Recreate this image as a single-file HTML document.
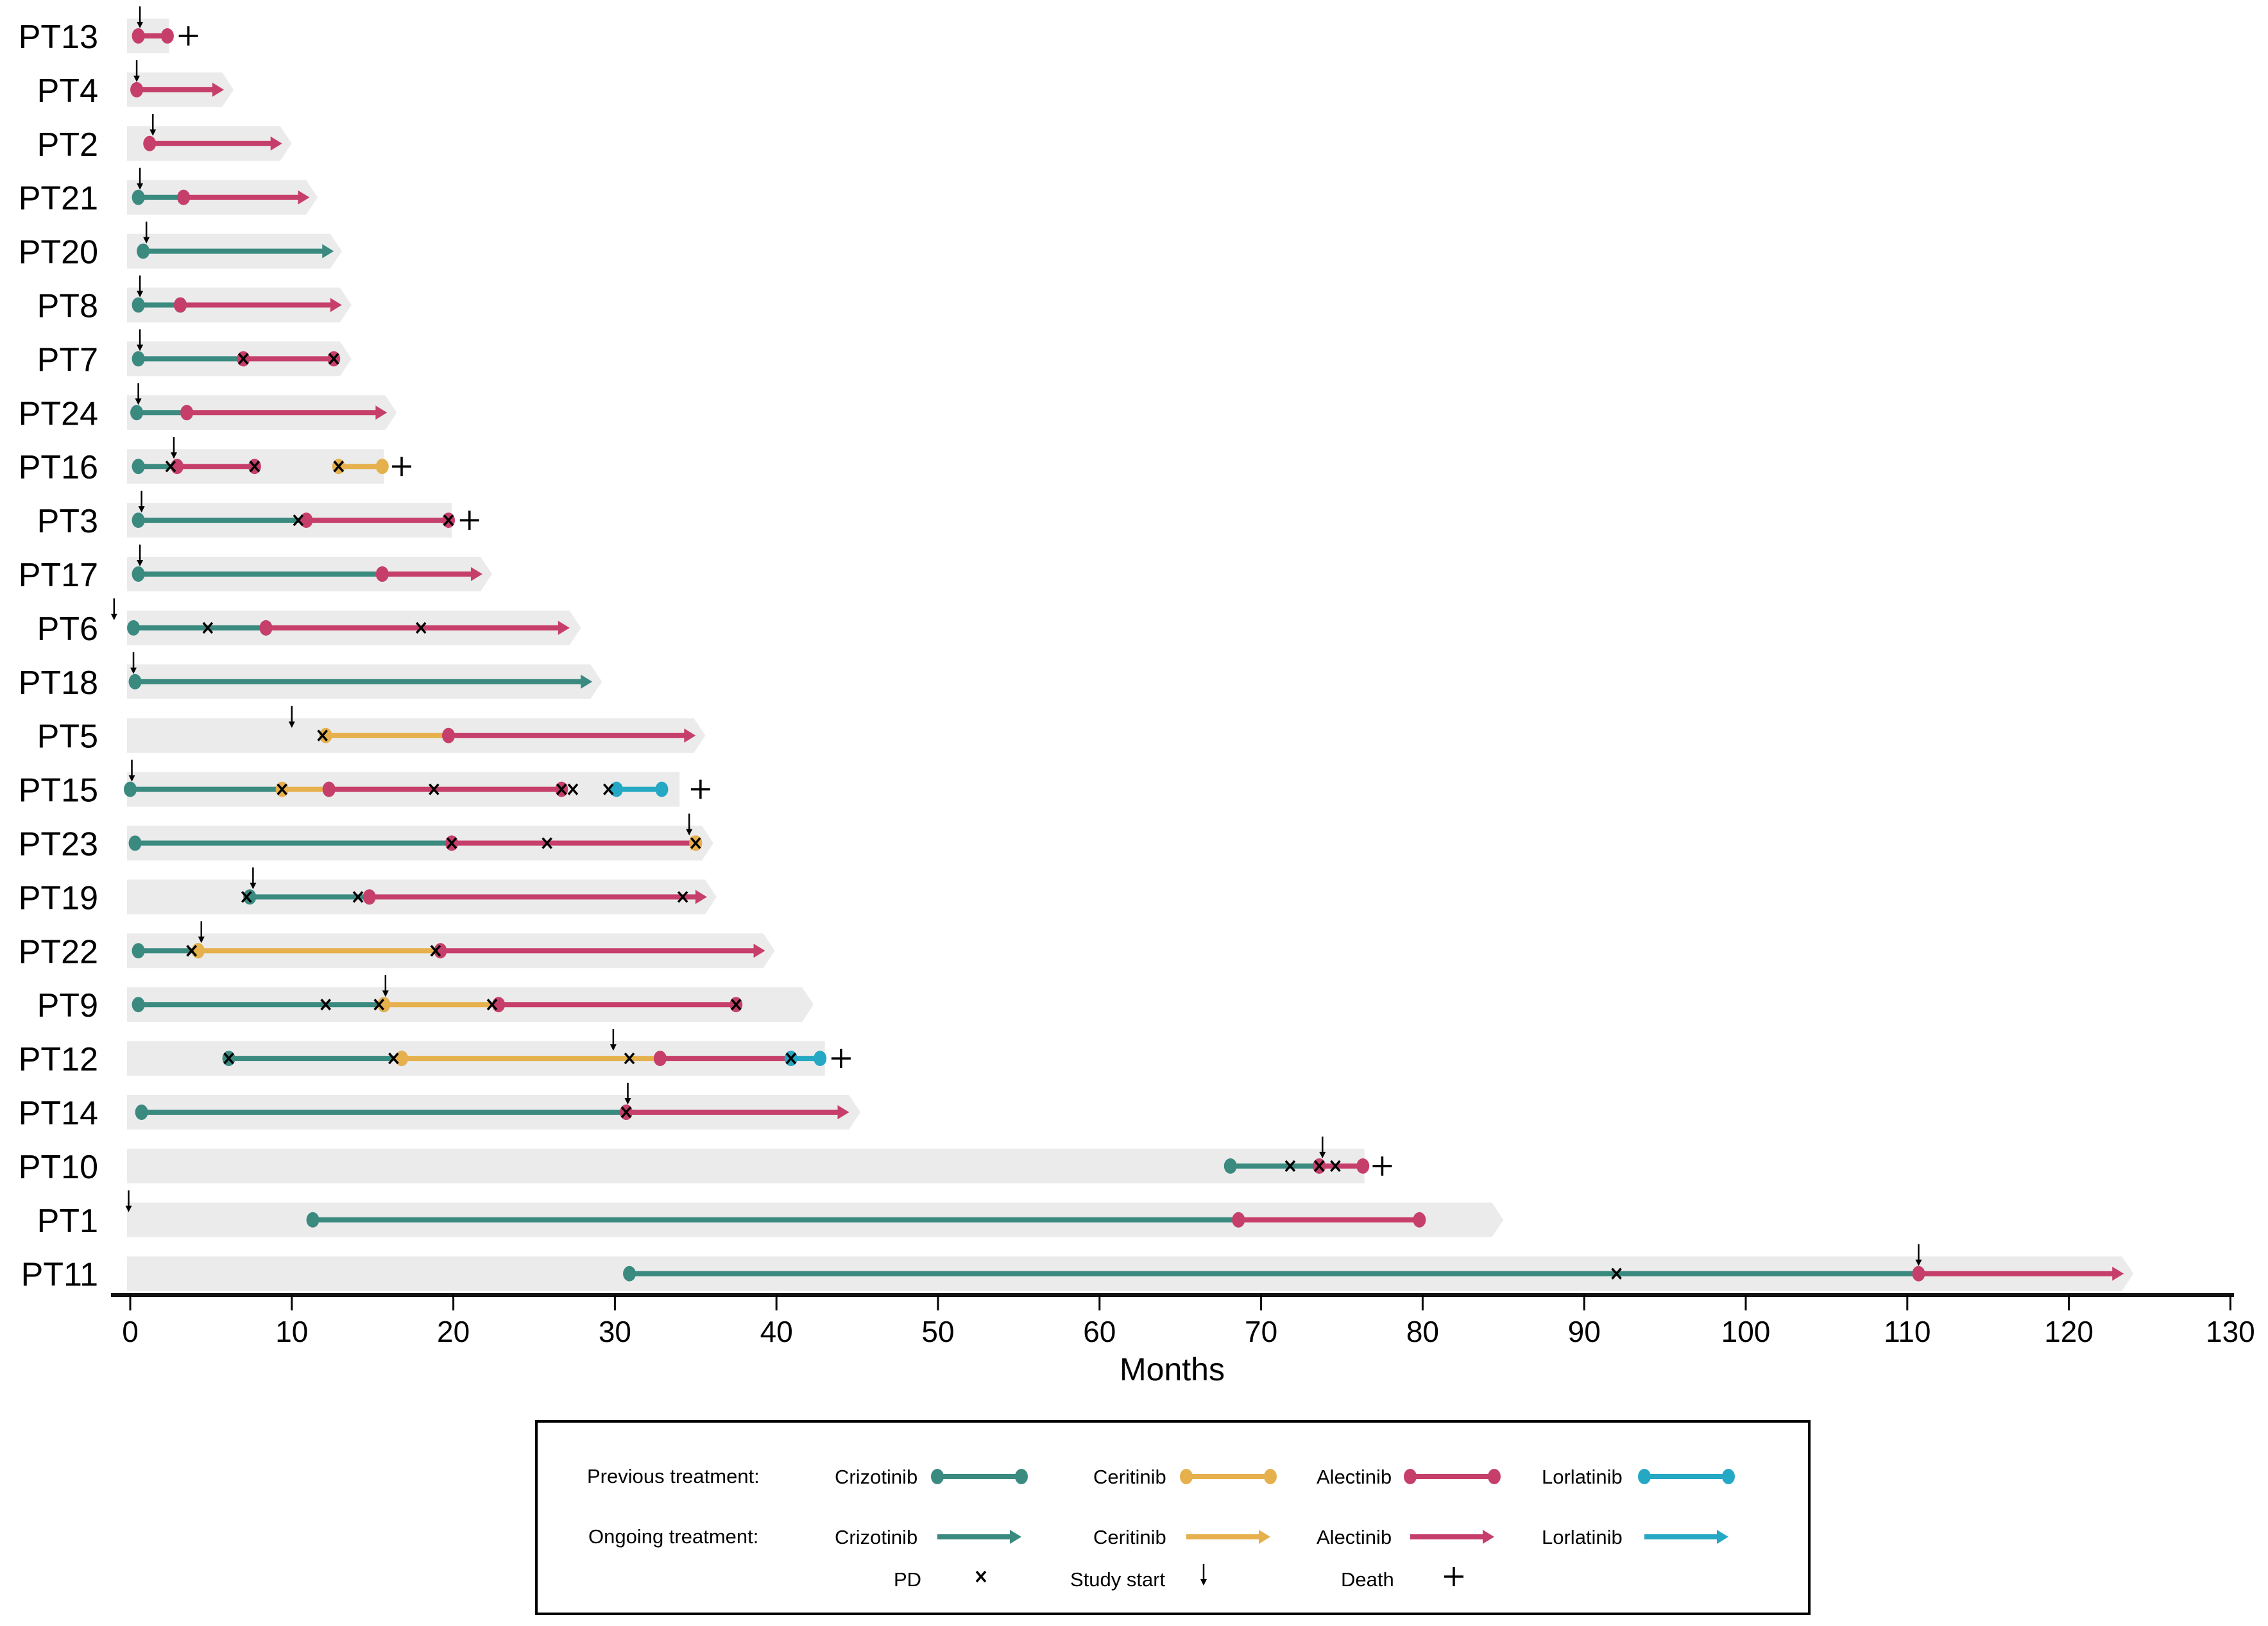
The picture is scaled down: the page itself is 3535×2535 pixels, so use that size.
<!DOCTYPE html>
<html><head><meta charset="utf-8">
<style>
html,body{margin:0;padding:0;background:#fff;}
svg{display:block;font-family:"Liberation Sans",Arial,sans-serif;}
</style></head>
<body>
<svg id="chart" width="3535" height="2535" viewBox="0 0 3535 2535" xmlns="http://www.w3.org/2000/svg">
<g id="bands"></g>
<g id="segs"></g>
<g id="marks"></g>
<g id="labels"></g>
<g id="axis"></g>
<text x="1827" y="2152" font-size="50" text-anchor="middle">Months</text>
<g id="legend">
<rect x="836" y="2216" width="1984" height="300" fill="#fff" stroke="#000" stroke-width="4"/>
<text x="915" y="2312" font-size="31">Previous treatment:</text>
<text x="917" y="2406" font-size="31">Ongoing treatment:</text>
</g>
</svg>
<script>
const patients = ["PT13","PT4","PT2","PT21","PT20","PT8","PT7","PT24","PT16","PT3","PT17","PT6","PT18","PT5","PT15","PT23","PT19","PT22","PT9","PT12","PT14","PT10","PT1","PT11"];
// segments: [rowIndex, drug, start, end, endType]
const segments = [
[0,"A",0.5,2.3,"dot"],
[1,"A",0.4,5.8,"arrow"],
[2,"A",1.2,9.4,"arrow"],
[3,"C",0.5,3.3,"dot"],[3,"A",3.3,11.1,"arrow"],
[4,"C",0.8,12.6,"arrow"],
[5,"C",0.5,3.1,"dot"],[5,"A",3.1,13.1,"arrow"],
[6,"C",0.5,7.0,"none"],[6,"A",7.0,12.6,"dot"],
[7,"C",0.4,3.5,"dot"],[7,"A",3.5,15.9,"arrow"],
[8,"C",0.5,2.9,"none"],[8,"A",2.9,7.7,"dot"],[8,"E",12.9,15.6,"dot"],
[9,"C",0.5,10.9,"none"],[9,"A",10.9,19.7,"dot"],
[10,"C",0.5,15.6,"dot"],[10,"A",15.6,21.8,"arrow"],
[11,"C",0.2,8.4,"dot"],[11,"A",8.4,27.2,"arrow"],
[12,"C",0.3,28.6,"arrow"],
[13,"E",12.1,19.7,"dot"],[13,"A",19.7,35.0,"arrow"],
[14,"C",0.0,9.4,"none"],[14,"E",9.4,12.3,"dot"],[14,"A",12.3,26.7,"dot"],[14,"L",30.1,32.9,"dot"],
[15,"C",0.3,19.9,"dot"],[15,"A",19.9,35.0,"dot"],[15,"E",35.0,35.4,"arrow"],
[16,"C",7.4,14.8,"dot"],[16,"A",14.8,35.7,"arrow"],
[17,"C",0.5,4.2,"dot"],[17,"E",4.2,19.2,"dot"],[17,"A",19.2,39.3,"arrow"],
[18,"C",0.5,15.7,"dot"],[18,"E",15.7,22.8,"dot"],[18,"A",22.8,37.5,"dot"],
[19,"C",6.1,16.8,"dot"],[19,"E",16.8,32.8,"dot"],[19,"A",32.8,40.9,"dot"],[19,"L",40.9,42.7,"dot"],
[20,"C",0.7,30.7,"dot"],[20,"A",30.7,44.5,"arrow"],
[21,"C",68.1,73.6,"dot"],[21,"A",73.6,76.3,"dot"],
[22,"C",11.3,68.6,"dot"],[22,"A",68.6,79.8,"dot"],
[23,"C",30.9,110.7,"dot"],[23,"A",110.7,123.4,"arrow"]
];
// band ends: [rowIndex, endMonth, chevron(1/0)]
const bandEnds = [[0,2.4,0],[1,6.4,1],[2,10.0,1],[3,11.6,1],[4,13.1,1],[5,13.7,1],[6,13.7,1],[7,16.5,1],[8,15.7,0],[9,19.9,0],[10,22.4,1],[11,27.9,1],[12,29.2,1],[13,35.6,1],[14,34.0,0],[15,36.1,1],[16,36.3,1],[17,39.9,1],[18,42.3,1],[19,43.0,0],[20,45.2,1],[21,76.4,0],[22,85.0,1],[23,124.0,1]];
const pdEvents = [[6,7.0],[6,12.6],[8,2.5],[8,7.7],[8,12.9],[9,10.4],[9,19.7],[11,4.8],[11,18.0],[13,11.9],[14,9.4],[14,18.8],[14,26.7],[14,27.4],[14,29.6],[15,19.9],[15,25.8],[15,35.0],[16,7.2],[16,14.1],[16,34.2],[17,3.8],[17,18.9],[18,12.1],[18,15.4],[18,22.4],[18,37.5],[19,6.1],[19,16.3],[19,30.9],[19,40.9],[20,30.7],[21,71.8],[21,73.6],[21,74.6],[23,92.0]];
const studyStarts = [[0,0.6],[1,0.4],[2,1.4],[3,0.6],[4,1.0],[5,0.6],[6,0.6],[7,0.5],[8,2.7],[9,0.7],[10,0.6],[11,-1.0],[12,0.2],[13,10.0],[14,0.1],[15,34.6],[16,7.6],[17,4.4],[18,15.8],[19,29.9],[20,30.8],[21,73.8],[22,-0.1],[23,110.7]];
const deaths = [[0,3.6],[8,16.8],[9,21.0],[14,35.3],[19,44.0],[21,77.5]];
const xTicks = [0,10,20,30,40,50,60,70,80,90,100,110,120,130];

const NS="http://www.w3.org/2000/svg";
const colors={C:"#3a8a80",E:"#e6b04c",A:"#c63f6b",L:"#25a8c3"};
const drugNames={C:"crizotinib",E:"ceritinib",A:"alectinib",L:"lorlatinib"};
function xs(m){return 203+m*25.18;}
function ys(i){return 56+i*83.9;}
function mk(tag,attrs,parent){const e=document.createElementNS(NS,tag);for(const k in attrs)e.setAttribute(k,attrs[k]);parent.appendChild(e);return e;}
const gB=document.getElementById("bands"),gS=document.getElementById("segs"),gM=document.getElementById("marks"),gL=document.getElementById("labels"),gA=document.getElementById("axis"),gLeg=document.getElementById("legend");

patients.forEach((p,i)=>{
  const t=mk("text",{x:153,y:ys(i)+19,"font-size":52,"text-anchor":"end"},gL);
  t.textContent=p;
  
  
});
bandEnds.forEach(b=>{
  const y=ys(b[0]),x0=198,x1=xs(b[1]),h=27;
  let d;
  if(b[2]) d=`M${x0},${y-h} L${x1-18},${y-h} L${x1},${y} L${x1-18},${y+h} L${x0},${y+h} Z`;
  else d=`M${x0},${y-h} L${x1},${y-h} L${x1},${y+h} L${x0},${y+h} Z`;
  const e=mk("path",{d:d,fill:"#ebebeb"},gB);
  
  
});
function drawSeg(x0,x1,y,col,endType,parent,name,noStart){
  const g=mk("g",{},parent);
  
  
  const xe = endType==="arrow" ? x1-14 : x1;
  mk("line",{x1:x0,y1:y,x2:xe,y2:y,stroke:col,"stroke-width":8},g);
  if(!noStart) mk("ellipse",{cx:x0,cy:y,rx:10,ry:12,fill:col},g);
  if(endType==="dot") mk("ellipse",{cx:x1,cy:y,rx:10,ry:12,fill:col},g);
  if(endType==="arrow") mk("path",{d:`M${x1-18},${y-11} L${x1},${y} L${x1-18},${y+11} Z`,fill:col},g);
  return g;
}
segments.forEach(s=>{
  drawSeg(xs(s[2]),xs(s[3]),ys(s[0]),colors[s[1]],s[4],gS,'segment-'+patients[s[0]].toLowerCase()+'-'+drugNames[s[1]],false);
});
function drawX(x,y,parent){
  const g=mk("g",{stroke:"#000","stroke-width":3.5},parent);
  mk("line",{x1:x-7,y1:y-8,x2:x+7,y2:y+8},g);
  mk("line",{x1:x+7,y1:y-8,x2:x-7,y2:y+8},g);
  return g;
}
pdEvents.forEach(p=>{
  const g=drawX(xs(p[1]),ys(p[0]),gM);
  
  
});
function drawArrowDown(x,y,parent){
  const g=mk("g",{},parent);
  mk("line",{x1:x,y1:y-36,x2:x,y2:y-8,stroke:"#000","stroke-width":2.5},g);
  mk("path",{d:`M${x-5},${y-12} L${x},${y-2} L${x+5},${y-12} Z`,fill:"#000"},g);
  return g;
}
studyStarts.forEach(s=>{
  const g=drawArrowDown(xs(s[1]),ys(s[0])-10,gM);
  
  
});
function drawPlus(x,y,parent){
  const g=mk("g",{stroke:"#000","stroke-width":3.5},parent);
  mk("line",{x1:x-15,y1:y,x2:x+15,y2:y},g);
  mk("line",{x1:x,y1:y-15,x2:x,y2:y+15},g);
  return g;
}
deaths.forEach(d=>{
  const g=drawPlus(xs(d[1]),ys(d[0]),gM);
  
  
});
// axis
const ax=mk("line",{x1:173,y1:2019,x2:3482,y2:2019,stroke:"#111","stroke-width":6},gA);


xTicks.forEach(t=>{
  const tl=mk("line",{x1:xs(t),y1:2019,x2:xs(t),y2:2043,stroke:"#000","stroke-width":3},gA);
  
  
  const tt=mk("text",{x:xs(t),y:2092,"font-size":46,"text-anchor":"middle"},gA);
  tt.textContent=t;
  
  
});
// legend
const legItems=[["C","Crizotinib",1301,1461],["E","Ceritinib",1704,1849],["A","Alectinib",2052,2198],["L","Lorlatinib",2403,2563]];
legItems.forEach(l=>{
  [[2302,"dot","previous"],[2396,"arrow","ongoing"]].forEach(r=>{
    const t=mk("text",{x:l[2],y:r[0]+11,"font-size":31},gLeg);
    t.textContent=l[1];
    
    
    drawSeg(l[3],l[3]+131,r[0],colors[l[0]],r[1],gLeg,'legend-swatch-'+r[2]+'-'+drugNames[l[0]],r[1]==="arrow");
  });
});
[["PD",1393],["Study start",1668],["Death",2090]].forEach(t=>{
  const e=mk("text",{x:t[1],y:2473,"font-size":31},gLeg);
  e.textContent=t[0];
  
  
});
const lx=drawX(1529,2458,gLeg);


const la=drawArrowDown(1876,2474,gLeg);


const lp=drawPlus(2266,2458,gLeg);


</script>
</body></html>
